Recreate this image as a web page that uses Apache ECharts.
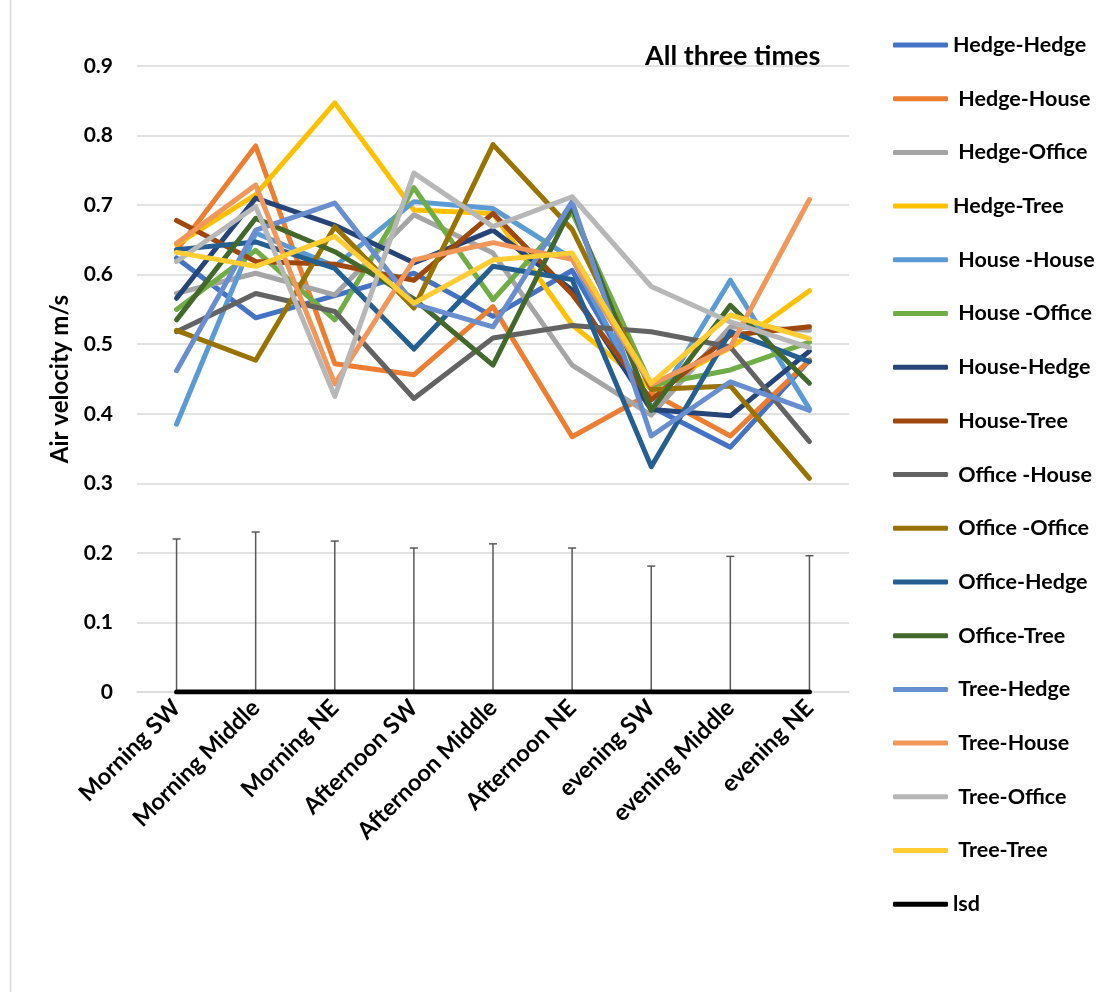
<!DOCTYPE html>
<html>
<head>
<meta charset="utf-8">
<script src="https://cdn.jsdelivr.net/npm/echarts@6/dist/echarts.min.js"></script>
<style>
  html, body { margin: 0; padding: 0; background: #fff; }
  #chart { width: 1112px; height: 992px; }
</style>
</head>
<body>
<div id="chart"></div>
<script>
const categories = ['Morning SW', 'Morning Middle', 'Morning NE', 'Afternoon SW', 'Afternoon Middle', 'Afternoon NE', 'evening SW', 'evening Middle', 'evening NE'];
const yTicks = [0, 0.1, 0.2, 0.3, 0.4, 0.5, 0.6, 0.7, 0.8, 0.9];

// one array per pair
const hedgeHedge = [0.624, 0.538, 0.570, 0.602, 0.540, 0.606, 0.410, 0.352, 0.477];
const hedgeHouse = [0.635, 0.785, 0.472, 0.456, 0.554, 0.367, 0.430, 0.368, 0.477];
const hedgeOffice = [0.573, 0.602, 0.571, 0.686, 0.631, 0.470, 0.398, 0.525, 0.520];
const hedgeTree = [0.643, 0.715, 0.847, 0.693, 0.688, 0.528, 0.436, 0.495, 0.577];
const houseHouse = [0.385, 0.660, 0.612, 0.705, 0.695, 0.623, 0.405, 0.592, 0.407];
const houseOffice = [0.550, 0.635, 0.535, 0.725, 0.564, 0.690, 0.441, 0.463, 0.503];
const houseHedge = [0.566, 0.710, 0.671, 0.617, 0.664, 0.578, 0.406, 0.397, 0.490];
const houseTree = [0.678, 0.619, 0.615, 0.592, 0.688, 0.572, 0.420, 0.513, 0.525];
const officeHouse = [0.518, 0.573, 0.547, 0.422, 0.509, 0.527, 0.518, 0.496, 0.360];
const officeOffice = [0.520, 0.477, 0.669, 0.552, 0.787, 0.665, 0.435, 0.440, 0.307];
const officeHedge = [0.636, 0.647, 0.609, 0.493, 0.612, 0.593, 0.324, 0.518, 0.475];
const officeTree = [0.535, 0.681, 0.633, 0.565, 0.470, 0.698, 0.405, 0.556, 0.444];
const treeHedge = [0.462, 0.664, 0.703, 0.558, 0.525, 0.705, 0.368, 0.446, 0.405];
const treeHouse = [0.645, 0.729, 0.443, 0.621, 0.646, 0.622, 0.442, 0.496, 0.708];
const treeOffice = [0.619, 0.698, 0.425, 0.746, 0.669, 0.712, 0.583, 0.532, 0.495];
const treeTree = [0.632, 0.612, 0.655, 0.559, 0.621, 0.631, 0.444, 0.542, 0.508];
const lsd = [0, 0, 0, 0, 0, 0, 0, 0, 0];
const lsdError = [0.220, 0.230, 0.217, 0.207, 0.213, 0.207, 0.181, 0.195, 0.196];

const seriesNames = ['Hedge-Hedge', ' Hedge-House', ' Hedge-Office', 'Hedge-Tree', ' House -House', ' House -Office', ' House-Hedge', ' House-Tree', ' Office -House', ' Office -Office', ' Office-Hedge', ' Office-Tree', ' Tree-Hedge', ' Tree-House', ' Tree-Office', ' Tree-Tree', 'lsd'];
const seriesData = [hedgeHedge, hedgeHouse, hedgeOffice, hedgeTree, houseHouse, houseOffice, houseHedge, houseTree, officeHouse, officeOffice, officeHedge, officeTree, treeHedge, treeHouse, treeOffice, treeTree, lsd];
const seriesColors = ['#4472C4', '#ED7D31', '#A5A5A5', '#FFC000', '#5B9BD5', '#70AD47', '#264478', '#9E480E', '#636363', '#997300', '#255E91', '#43682B', '#698ED0', '#F1975A', '#B7B7B7', '#FFCD33', '#000000'];

const FONT = 'Lato';

const chart = echarts.init(document.getElementById('chart'), null, { renderer: 'canvas' });

const lineSeries = seriesNames.map((name, i) => ({
  name,
  type: 'line',
  data: seriesData[i],
  symbol: 'none',
  color: seriesColors[i],
  lineStyle: { width: 5, color: seriesColors[i], cap: 'round', join: 'round' },
  z: name === 'lsd' ? 4 : 2,
  animation: false,
}));

// error bars on the lsd series
const errorSeries = {
  type: 'custom',
  name: 'lsd-error',
  data: lsdError.map((v, i) => [i, v]),
  z: 3,
  silent: true,
  animation: false,
  renderItem: (params, api) => {
    const base = api.coord([api.value(0), 0]);
    const top = api.coord([api.value(0), api.value(1)]);
    const style = { stroke: '#595959', lineWidth: 1.5 };
    return {
      type: 'group',
      children: [
        { type: 'line', shape: { x1: base[0], y1: base[1], x2: top[0], y2: top[1] }, style },
        { type: 'line', shape: { x1: top[0] - 4, y1: top[1], x2: top[0] + 4, y2: top[1] }, style },
      ],
    };
  },
};

const option = {
  backgroundColor: '#fff',
  animation: false,
  textStyle: { fontFamily: FONT },
  title: {
    text: 'All three times',
    left: 640,
    top: 38,
    textStyle: { fontFamily: FONT, fontWeight: 'bold', fontSize: 27, color: '#000' },
  },
  legend: {
    orient: 'vertical',
    left: 888,
    top: 29,
    itemWidth: 55,
    itemHeight: 5,
    itemGap: 31.7,
    icon: 'roundRect',
    data: seriesNames,
    textStyle: { fontFamily: FONT, fontWeight: 'bold', fontSize: 21.5, color: '#000', lineHeight: 20 },
  },
  grid: { left: 137, right: 263, top: 66, bottom: 300, containLabel: false },
  xAxis: {
    type: 'category',
    data: categories,
    boundaryGap: true,
    axisLine: { show: true, lineStyle: { color: '#D9D9D9', width: 1.5 } },
    axisTick: { show: false },
    axisLabel: { rotate: 45, interval: 0, margin: 12, fontFamily: FONT, fontWeight: 'bold', fontSize: 23.5, color: '#000' },
  },
  yAxis: {
    type: 'value',
    min: yTicks[0],
    max: yTicks[yTicks.length - 1],
    interval: 0.1,
    name: 'Air velocity m/s',
    nameLocation: 'middle',
    nameGap: 64,
    nameTextStyle: { fontFamily: FONT, fontWeight: 'bold', fontSize: 24, color: '#000' },
    axisLine: { show: false },
    axisTick: { show: false },
    splitLine: { lineStyle: { color: '#D9D9D9', width: 1.5 } },
    axisLabel: { margin: 24, fontFamily: FONT, fontWeight: 'bold', fontSize: 21, color: '#000' },
  },
  graphic: [
    { type: 'line', shape: { x1: 10.5, y1: 0, x2: 10.5, y2: 992 }, style: { stroke: '#D9D9D9', lineWidth: 1.5 } },
  ],
  series: [...lineSeries, errorSeries],
};

chart.setOption(option);
window.addEventListener('resize', chart.resize);
</script>
</body>
</html>
